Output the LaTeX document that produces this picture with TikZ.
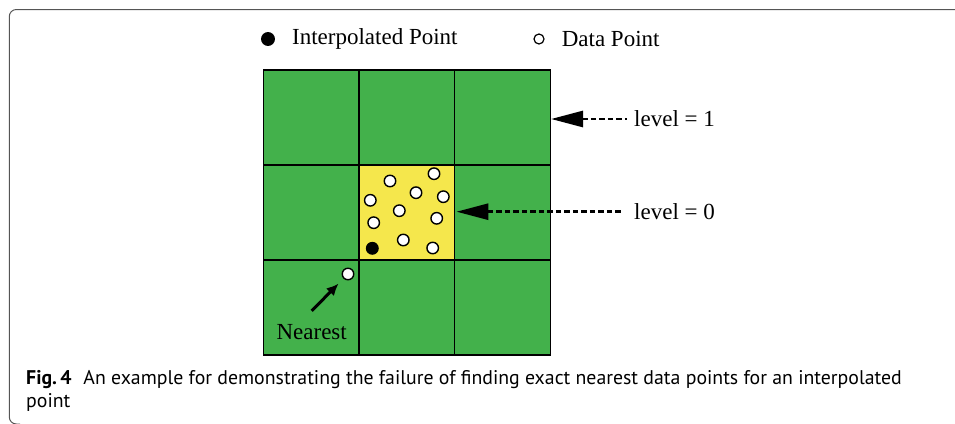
\documentclass[tikz,border=0pt]{standalone}
\usepackage{fontspec}
\setmainfont{Liberation Serif}
\newfontfamily\capfont{PT Sans}
\usetikzlibrary{positioning,arrows.meta}
\definecolor{cellGreen}{HTML}{43B14B}
\definecolor{cellYellow}{HTML}{F5E74C}
\definecolor{frameGray}{HTML}{555555}

\begin{document}
\begin{tikzpicture}[
  x=1pt, y=-1pt,
  font=\fontsize{23}{26}\selectfont,
  cell/.style  ={draw=black, fill=cellGreen, line width=1.5pt, minimum width=95.6pt, minimum height=95pt, inner sep=0pt},
  dat/.style   ={circle, draw=black, fill=white, line width=1.4pt, minimum size=11.5pt, inner sep=0pt},
  ipt/.style   ={circle, draw=black, fill=black, line width=1.4pt, minimum size=11.5pt, inner sep=0pt},
  lvl/.style   ={{Triangle[length=32pt, width=16pt]}-, line width=2.8pt, dash pattern=on 5.5pt off 3pt},
  nrst/.style  ={-{Latex[length=12pt, width=11pt]}, line width=3pt},
  lbl/.style   ={inner sep=3pt},
]
\useasboundingbox (0,0) rectangle (955,423);

% ==================== Frame ====================
\draw[frameGray, line width=1pt, rounded corners=7pt] (960,9.5) -- (9.3,9.5) -- (9.3,424) -- (20,424);

% ==================== Legend ====================
\node[ipt, minimum size=12.5pt] (lgIpt) at (268,39) {};
\node[lbl, right=14pt of lgIpt] (lgIptT) {Interpolated Point};
\node[dat, minimum size=10pt, line width=1.2pt] (lgDat) at (539,39) {};
\node[lbl, right=14pt of lgDat] (lgDatT) {Data Point};

% ==================== Grid of cells ====================
\foreach \i in {0,1,2}{
  \foreach \j in {0,1,2}{
    \node[cell] (c\i\j) at ({311.3+95.6*\i},{117.5+95*\j}) {};
  }
}
\node[cell, fill=cellYellow] (c11) at (406.9,212.5) {};

% data points in the level-0 cell
\foreach \px/\py [count=\k] in {390/181, 434/173.7, 416/192.7, 443.3/196.7, 370.3/200.3,
    399.3/210.7, 436.7/218.3, 373.7/222.7, 403.3/240, 432.7/248}{
  \node[dat] (d\k) at (\px,\py) {};
}
\node[ipt] (ip) at (372.3,248.3) {};

% nearest data point outside the cell
\node[dat] (nst) at (348,274) {};
\node[lbl] (lbN) at (311.7,331.7) {Nearest};
\draw[nrst, shorten >=7pt] ([yshift=10pt]lbN.north) -- (nst);

% ==================== Level arrows ====================
\node[lbl, anchor=west] (lv1) at (631,119) {level = 1};
\node[lbl, anchor=west] (lv0) at (631,211.7) {level = 0};
\draw[lvl, shorten >=4pt] (c20.east |- lv1.west) -- (lv1.west);
\draw[lvl, shorten >=8pt] ([xshift=1pt]c11.east |- lv0.west) -- (lv0.west);

% ==================== Caption ====================
\node[anchor=base west, inner sep=0pt, align=left, font=\capfont\fontsize{19.8}{23}\selectfont] (cap) at (26,407)
  {\textbf{Fig.\,4}\hspace{0.6em}An example for demonstrating the failure of finding exact nearest data points for an interpolated\\point};

\end{tikzpicture}
\end{document}
